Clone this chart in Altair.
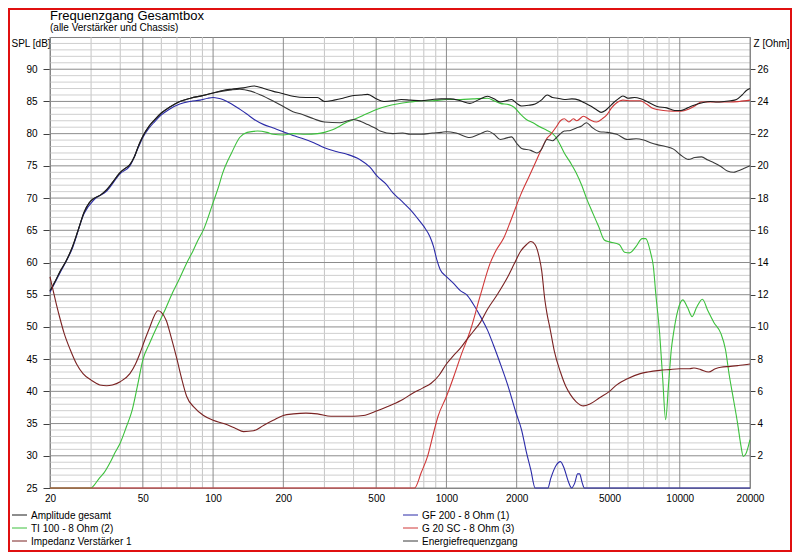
import altair as alt
import pandas as pd

# ---------------- data ----------------
amp_f = [20, 21, 22, 23.5, 25, 26.5, 28, 29.5, 31, 33, 35, 37, 40, 42, 44, 46, 48, 50, 53, 56, 60, 65, 72, 80,
         90, 100, 110, 120, 135, 150, 165, 180, 200, 220, 250, 280, 300, 330, 360, 390, 430, 460, 500, 540,
         590, 640, 700, 780, 870, 950, 1040, 1150, 1260, 1380, 1500, 1600, 1700, 1800, 1900, 2000, 2100, 2250,
         2400, 2550, 2700, 2850, 3000, 3200, 3450, 3700, 3900, 4150, 4400, 4600, 4800, 5000, 5200, 5450, 5700,
         6000, 6400, 6800, 7300, 8000, 8800, 9500, 10100, 10800, 11500, 12500, 13500, 14500, 15500, 16500,
         17500, 18500, 19300, 20000]
amp_db = [55.6, 57.0, 58.5, 60.3, 62.5, 65.2, 67.8, 69.3, 70.0, 70.5, 71.3, 72.4, 74.0, 74.6, 75.2, 76.4, 78.2,
          79.6, 81.1, 82.1, 83.2, 84.1, 85.0, 85.5, 85.9, 86.3, 86.7, 86.9, 87.1, 87.4, 87.0, 86.6, 86.2, 85.8,
          85.6, 85.6, 85.0, 85.2, 85.5, 85.85, 86.0, 86.1, 85.4, 85.0, 85.1, 85.3, 85.2, 85.1, 85.3, 85.4, 85.4,
          85.1, 84.7, 85.3, 85.8, 85.4, 84.9, 85.1, 85.3, 84.7, 84.3, 84.4, 84.6, 85.2, 86.0, 85.6, 85.5, 85.3,
          85.4, 85.2, 84.8, 84.3, 83.7, 83.3, 83.6, 84.2, 84.8, 85.4, 85.85, 85.5, 85.6, 85.4, 84.9, 84.2, 84.0,
          83.6, 83.6, 84.0, 84.4, 84.8, 85.0, 84.9, 85.0, 85.1, 85.3, 86.0, 86.7, 87.0]

energy_f = [20, 21, 22, 23.5, 25, 26.5, 28, 29.5, 31, 33, 35, 37, 40, 42, 44, 46, 48, 50, 53, 56, 60, 65, 72,
            80, 90, 100, 110, 120, 130, 145, 160, 180, 200, 220, 240, 270, 300, 350, 400, 430, 460, 500, 520,
            590, 650, 700, 780, 870, 950, 1000, 1100, 1260, 1380, 1500, 1600, 1700, 1800, 1900, 2000, 2100,
            2300, 2440, 2550, 2700, 2850, 3000, 3200, 3400, 3620, 3800, 3980, 4200, 4530, 4900, 5370, 5970,
            6500, 7000, 7500, 8000, 8700, 9400, 10000, 10900, 11600, 12400, 13200, 14000, 15000, 16000,
            17000, 17700, 18800, 20000]
energy_db = [55.6, 57.0, 58.5, 60.3, 62.5, 65.2, 67.8, 69.3, 70.0, 70.5, 71.3, 72.4, 74.0, 74.6, 75.2, 76.4,
             78.2, 79.6, 81.1, 82.1, 83.2, 84.1, 85.0, 85.5, 85.9, 86.3, 86.6, 86.8, 86.9, 86.6, 86.0, 85.1,
             84.2, 83.4, 83.0, 82.3, 81.8, 81.7, 82.2, 81.9, 81.4, 80.8, 80.4, 80.0, 80.1, 79.9, 79.9, 80.1,
             80.2, 80.3, 80.1, 79.4, 79.9, 80.4, 79.9, 79.1, 79.3, 79.5, 78.5, 77.7, 77.4, 77.0, 77.5, 79.1,
             78.9, 79.6, 80.4, 80.5, 80.9, 81.2, 81.7, 81.0, 80.3, 80.2, 79.9, 79.1, 79.2, 79.0, 78.6, 78.3,
             78.0, 77.6, 76.8, 76.0, 76.3, 76.4, 75.9, 75.5, 74.9, 74.2, 74.0, 74.2, 74.6, 75.0]

gf200_f = [20, 22, 25, 28, 31, 35, 40, 44, 48, 50, 53, 56, 60, 65, 72, 80, 88, 95, 100, 105, 110, 120, 130,
           140, 150, 165, 180, 200, 220, 240, 270, 300, 340, 375, 425, 470, 505, 550, 590, 640, 700, 750, 800,
           850, 880, 910, 940, 1000, 1070, 1150, 1220, 1300, 1400, 1500, 1590, 1690, 1830, 1990, 2100, 2200,
           2300, 2400, 2720, 2800, 2950, 3080, 3200, 3330, 3440, 3550, 3650, 3720, 3820, 3900, 20000]
gf200_db = [55.4, 58.3, 62.3, 67.6, 69.8, 71.1, 73.8, 75.0, 78.0, 79.4, 80.8, 81.8, 82.9, 83.8, 84.6, 85.0,
            85.2, 85.5, 85.6, 85.5, 85.3, 84.6, 83.8, 83.0, 82.2, 81.4, 80.9, 80.3, 79.7, 79.3, 78.6, 77.8,
            77.2, 76.8, 76.0, 74.8, 73.4, 72.2, 70.8, 69.6, 68.2, 66.9, 65.6, 64.0, 62.5, 60.4, 58.9, 57.8,
            56.8, 55.6, 55.0, 53.6, 51.6, 49.5, 47.2, 44.6, 41.0, 36.6, 34.0, 30.6, 27.8, 25.0, 25.0, 26.5,
            28.5, 29.1, 28.0, 26.0, 25.0, 25.8, 27.2, 27.2, 25.8, 25.0, 25.0]

ti100_f = [20, 30, 31, 32.5, 34, 36, 38, 40, 42.5, 45, 47.5, 50, 53.5, 57.6, 62, 67, 72, 77, 82, 86, 91, 100,
           105, 110, 120, 130, 140, 155, 170, 181, 200, 221, 250, 280, 300, 325, 350, 375, 400, 450, 505, 560,
           615, 700, 780, 870, 1000, 1150, 1300, 1500, 1600, 1700, 1850, 1950, 2080, 2200, 2350, 2500, 2700,
           2850, 2950, 3100, 3200, 3400, 3600, 3800, 4000, 4200, 4500, 4750, 5000, 5500, 5800, 6100, 6500,
           6900, 7150, 7500, 7700, 7900, 8200, 8450, 8700, 8950, 9200, 9400, 9800, 10300, 10800, 11300,
           11800, 12500, 13200, 14000, 15000, 15700, 16300, 17000, 17700, 18300, 18700, 19200, 20000]
ti100_db = [25.0, 25.0, 25.5, 26.5, 27.3, 28.8, 30.5, 32.0, 34.5, 37.1, 41.0, 44.9, 47.5, 50.1, 52.5, 55.3,
            57.6, 59.9, 61.8, 63.4, 65.1, 69.3, 71.5, 73.9, 77.0, 79.4, 80.2, 80.4, 80.2, 79.9, 79.8, 80.0,
            79.9, 80.0, 80.2, 80.6, 81.2, 81.8, 82.2, 83.0, 83.8, 84.3, 84.6, 84.9, 85.1, 85.1, 85.3, 85.3,
            85.4, 85.5, 85.1, 84.7, 84.5, 84.1, 83.0, 82.2, 81.7, 81.1, 80.5, 80.0, 79.4, 78.0, 77.0, 75.5,
            73.9, 72.0, 69.8, 68.0, 65.5, 63.5, 63.2, 62.8, 61.6, 61.5, 62.5, 63.7, 63.7, 61.5, 59.5, 55.0,
            49.0, 42.0, 35.6, 41.0, 46.5, 49.0, 52.5, 54.2, 53.0, 51.6, 53.0, 54.3, 52.5, 50.7, 49.0, 46.5,
            42.5, 38.7, 35.0, 31.5, 29.9, 30.3, 32.5]

g20sc_f = [20, 730, 780, 830, 880, 920, 1000, 1080, 1150, 1270, 1400, 1540, 1640, 1760, 1900, 2080, 2250,
           2440, 2600, 2700, 2800, 2950, 3080, 3200, 3350, 3500, 3620, 3870, 4100, 4400, 4650, 4890, 5100,
           5370, 5700, 6200, 6770, 7200, 7700, 8500, 9400, 10100, 10900, 11600, 12400, 14000, 16500, 18000,
           20000]
g20sc_db = [25.0, 25.0, 27.4, 29.9, 33.5, 36.1, 39.2, 42.5, 45.4, 49.6, 55.0, 59.9, 62.0, 63.8, 66.8, 70.5,
            73.2, 76.0, 78.2, 79.3, 79.9, 81.0, 82.0, 82.3, 81.8, 82.3, 82.0, 82.7, 82.2, 81.8, 82.3, 83.0,
            84.0, 84.8, 85.2, 85.1, 85.1, 84.6, 83.9, 83.6, 83.5, 83.5, 83.8, 84.3, 84.9, 84.9, 84.9, 85.0,
            85.2]

imp_f = [20, 20.6, 21.3, 22, 23, 24.4, 26, 27.7, 30, 32.7, 35, 37, 40, 44, 46.5, 48.7, 51, 53.6, 56, 58, 60,
         63, 66, 70, 73, 77, 83, 91, 100, 111, 125, 135, 149, 165, 181, 200, 221, 250, 280, 320, 350, 400,
         440, 505, 590, 650, 720, 790, 860, 930, 1000, 1070, 1150, 1220, 1300, 1400, 1500, 1650, 1830, 1950,
         2080, 2200, 2300, 2400, 2500, 2560, 2640, 2700, 2780, 2900, 3080, 3250, 3400, 3600, 3870, 4100,
         4530, 5000, 5370, 6000, 6770, 7300, 8200, 9000, 10000, 11000, 11500, 12300, 13300, 14200, 15000,
         16500, 17700, 19000, 20000]
imp_ohm = [13.1, 12.3, 11.4, 10.6, 9.6, 8.6, 7.7, 7.1, 6.7, 6.4, 6.35, 6.4, 6.6, 7.1, 7.7, 8.4, 9.2, 10.0,
           10.7, 11.0, 10.9, 10.4, 9.4, 8.0, 6.9, 5.7, 5.0, 4.5, 4.2, 4.0, 3.7, 3.5, 3.55, 3.9, 4.2, 4.5,
           4.6, 4.65, 4.6, 4.45, 4.45, 4.45, 4.5, 4.8, 5.2, 5.5, 5.9, 6.2, 6.5, 7.0, 7.7, 8.2, 8.7, 9.2, 9.7,
           10.3, 11.1, 12.0, 13.1, 13.9, 14.7, 15.1, 15.3, 15.1, 14.3, 13.5, 11.7, 10.8, 9.9, 8.5, 7.2, 6.3,
           5.8, 5.35, 5.1, 5.2, 5.6, 6.0, 6.4, 6.8, 7.1, 7.2, 7.3, 7.35, 7.4, 7.4, 7.45, 7.35, 7.2, 7.4, 7.5,
           7.55, 7.6, 7.65, 7.7]

x_labels = [20, 50, 100, 200, 500, 1000, 2000, 5000, 10000, 20000]
x_grid = [30, 40, 60, 70, 80, 90, 300, 400, 600, 700, 800, 900, 3000, 4000, 6000, 7000, 8000, 9000]
spl_ticks = [25, 30, 35, 40, 45, 50, 55, 60, 65, 70, 75, 80, 85, 90]
spl_minor = [v for v in range(26, 95) if v % 5 != 0]
ohm_ticks = [2, 4, 6, 8, 10, 12, 14, 16, 18, 20, 22, 24, 26]

title_text = "Frequenzgang Gesamtbox"
subtitle_text = "(alle Verstärker und Chassis)"

FONT = "Liberation Sans"

# ---------------- scales / encodings ----------------
X = alt.X("f:Q",
          scale=alt.Scale(type="log", domain=[20, 20000], nice=False),
          axis=alt.Axis(values=x_labels, title=None, grid=False, tickSize=0, labelPadding=5,
                        labelFontSize=10, labelFont=FONT, labelColor="#000000", domain=False,
                        labelFlush=False, labelOverlap=False, format="d"))

Y = alt.Y("db:Q",
          scale=alt.Scale(domain=[25, 95], nice=False, zero=False),
          axis=alt.Axis(values=spl_ticks, title="SPL [dB]", titleAngle=0, titleX=-39, titleY=6,
                        titleAlign="left", titleBaseline="middle", titleFontWeight="normal",
                        titleFontSize=10, titleFont=FONT, titleColor="#000000",
                        tickSize=7, tickColor="#404040", labelPadding=6, labelFontSize=10,
                        labelFont=FONT, labelColor="#000000", domain=False, grid=False,
                        labelFlush=False, labelOverlap=False))

YZ = alt.Y("z:Q",
           scale=alt.Scale(domain=[0, 28], nice=False, zero=False),
           axis=alt.Axis(orient="right", values=ohm_ticks, title="Z [Ohm]", titleAngle=0, titleX=3,
                         titleY=6, titleAlign="left", titleBaseline="middle", titleFontWeight="normal",
                         titleFontSize=10, titleFont=FONT, titleColor="#000000",
                         tickSize=5, tickColor="#404040", labelPadding=2, labelFontSize=10,
                         labelFont=FONT, labelColor="#000000", domain=False, grid=False,
                         labelFlush=False, labelOverlap=False))

# ---------------- grid ----------------
vgrid_minor = alt.Chart(pd.DataFrame({"f": x_grid})).mark_rule(color="#c4c4c4", strokeWidth=1).encode(x=X)
vgrid_major = alt.Chart(pd.DataFrame({"f": x_labels})).mark_rule(color="#8c8c8c", strokeWidth=1).encode(x=X)
hgrid_minor = alt.Chart(pd.DataFrame({"db": spl_minor})).mark_rule(color="#cfcfcf", strokeWidth=1).encode(y=Y)
hgrid_major = alt.Chart(pd.DataFrame({"db": spl_ticks})).mark_rule(color="#8c8c8c", strokeWidth=1).encode(y=Y)

# ---------------- series ----------------
C_AMP = "#1c1c1c"
C_GF = "#2a2aa8"
C_TI = "#3cc03c"
C_G20 = "#d03838"
C_IMP = "#7a2222"
C_EN = "#3a3a3a"


def spl_line(fs, vs, color):
    return alt.Chart(pd.DataFrame({"f": fs, "db": vs})).mark_line(
        color=color, strokeWidth=1.1, interpolate="monotone").encode(x=X, y=Y)


spl_group = alt.layer(
    vgrid_minor, hgrid_minor, vgrid_major, hgrid_major,
    spl_line(gf200_f, gf200_db, C_GF),
    spl_line(ti100_f, ti100_db, C_TI),
    spl_line(g20sc_f, g20sc_db, C_G20),
    spl_line(energy_f, energy_db, C_EN),
    spl_line(amp_f, amp_db, C_AMP),
)

imp_layer = alt.Chart(pd.DataFrame({"f": imp_f, "z": imp_ohm})).mark_line(
    color=C_IMP, strokeWidth=1.1, interpolate="monotone").encode(x=X, y=YZ)

# ---------------- texts, legend, frame ----------------
one = pd.DataFrame({"t": [""]})


def label(text, x, y, size=10):
    return alt.Chart(pd.DataFrame({"t": [text]})).mark_text(
        align="left", baseline="alphabetic", fontSize=size, font=FONT, color="#000000"
    ).encode(x=alt.value(x), y=alt.value(y), text="t:N")


legend_items = [
    ("Amplitude gesamt", C_AMP), ("TI 100 - 8 Ohm (2)", C_TI), ("Impedanz Verstärker 1", C_IMP),
    ("GF 200 - 8 Ohm (1)", C_GF), ("G 20 SC - 8 Ohm (3)", C_G20), ("Energiefrequenzgang", C_EN),
]
legend_layers = []
for i, (name, col) in enumerate(legend_items):
    colx = -38 if i < 3 else 353
    rowy = 478 + 13 * (i % 3)
    legend_layers.append(
        alt.Chart(one).mark_rule(color=col, strokeWidth=1).encode(
            x=alt.value(colx), x2=alt.value(colx + 15), y=alt.value(rowy)))
    legend_layers.append(label(name, colx + 19, rowy + 3.5))

frame = alt.Chart(one).mark_rect(fill=None, stroke="#e01010", strokeWidth=2).encode(
    x=alt.value(-41), x2=alt.value(741), y=alt.value(-28), y2=alt.value(514))

chart = alt.layer(
    spl_group, imp_layer,
    label(title_text, 0, -17.5, 13), label(subtitle_text, 0, -6.5, 10),
    *legend_layers, frame,
).resolve_scale(y="independent").properties(
    width=700, height=451,
    autosize=alt.AutoSizeParams(type="none"),
    padding={"left": 42, "top": 29, "right": 42, "bottom": 64},
    background="#ffffff",
).configure_view(stroke="#808080", strokeWidth=1)

chart.save("out.html", embed_options={"renderer": "svg", "actions": False})
